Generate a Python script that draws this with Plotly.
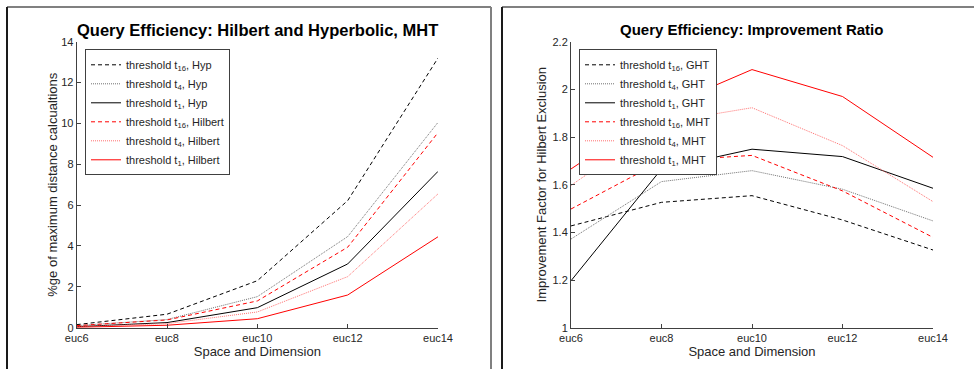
import plotly.graph_objects as go

W, H = 974, 369

categories = ["euc6", "euc8", "euc10", "euc12", "euc14"]

# Left panel: % of maximum distance calculations
hyp_t16 = [0.15, 0.66, 2.30, 6.22, 13.20]
hyp_t4 = [0.10, 0.40, 1.52, 4.46, 10.05]
hyp_t1 = [0.05, 0.25, 0.98, 3.12, 7.65]
hil_t16 = [0.10, 0.38, 1.31, 3.94, 9.55]
hil_t4 = [0.05, 0.20, 0.77, 2.50, 6.55]
hil_t1 = [0.02, 0.12, 0.44, 1.60, 4.45]

# Right panel: improvement factor
ght_t16 = [1.427, 1.526, 1.554, 1.452, 1.326]
ght_t4 = [1.372, 1.613, 1.659, 1.581, 1.448]
ght_t1 = [1.197, 1.666, 1.749, 1.718, 1.585]
mht_t16 = [1.498, 1.699, 1.723, 1.574, 1.379]
mht_t4 = [1.597, 1.860, 1.923, 1.764, 1.529]
mht_t1 = [1.666, 1.920, 2.083, 1.970, 1.715]

left_names = ["threshold t<sub>16</sub>, Hyp", "threshold t<sub>4</sub>, Hyp", "threshold t<sub>1</sub>, Hyp",
              "threshold t<sub>16</sub>, Hilbert", "threshold t<sub>4</sub>, Hilbert", "threshold t<sub>1</sub>, Hilbert"]
right_names = ["threshold t<sub>16</sub>, GHT", "threshold t<sub>4</sub>, GHT", "threshold t<sub>1</sub>, GHT",
               "threshold t<sub>16</sub>, MHT", "threshold t<sub>4</sub>, MHT", "threshold t<sub>1</sub>, MHT"]

styles = [
    dict(color="#000000", dash="4px,3px", width=1),
    dict(color="#707070", dash="1px,1px", width=1),
    dict(color="#000000", dash="solid", width=1),
    dict(color="#ff0000", dash="4px,3px", width=1),
    dict(color="#ff7070", dash="1px,1px", width=1),
    dict(color="#ff0000", dash="solid", width=1),
]

FONT = "Liberation Sans, Arial, Helvetica, sans-serif"
fig = go.Figure()

for ys, nm, st in zip([hyp_t16, hyp_t4, hyp_t1, hil_t16, hil_t4, hil_t1], left_names, styles):
    fig.add_trace(go.Scatter(x=categories, y=ys, mode="lines", name=nm, line=st,
                             xaxis="x", yaxis="y", legend="legend"))
for ys, nm, st in zip([ght_t16, ght_t4, ght_t1, mht_t16, mht_t4, mht_t1], right_names, styles):
    fig.add_trace(go.Scatter(x=categories, y=ys, mode="lines", name=nm, line=st,
                             xaxis="x2", yaxis="y2", legend="legend2"))

axis_common = dict(showline=True, linecolor="#404040", linewidth=1, ticks="inside", ticklen=4,
                   tickcolor="#404040", showgrid=False, zeroline=False,
                   tickfont=dict(family=FONT, size=11, color="#262626"), automargin=False)

lx0, lx1 = 76.7 / W, 438 / W
rx0, rx1 = 571 / W, 933 / W
yb, yt = 1 - 327.7 / H, 1 - 41.7 / H

legend_common = dict(xanchor="left", yanchor="top", bgcolor="white",
                     bordercolor="#404040", borderwidth=1,
                     font=dict(family=FONT, size=11, color="#262626"),
                     tracegroupgap=0, itemwidth=30)

fig.update_layout(
    width=W, height=H, margin=dict(l=0, r=0, t=0, b=0),
    paper_bgcolor="white", plot_bgcolor="white",
    font=dict(family=FONT, color="#262626"),
    xaxis=dict(domain=[lx0, lx1], anchor="y", type="category", range=[0, 4],
               title=dict(text="Space and Dimension", font=dict(size=13, color="#262626"), standoff=0),
               **axis_common),
    yaxis=dict(domain=[yb, yt], anchor="x", range=[0, 14], dtick=2,
               title=dict(text="%ge of maximum distance calcualtions", font=dict(size=13, color="#262626"), standoff=0),
               **axis_common),
    xaxis2=dict(domain=[rx0, rx1], anchor="y2", type="category", range=[0, 4],
                title=dict(text="Space and Dimension", font=dict(size=13, color="#262626"), standoff=0),
                **axis_common),
    yaxis2=dict(domain=[yb, yt], anchor="x2", range=[1, 2.2], dtick=0.2,
                title=dict(text="Improvement Factor for Hilbert Exclusion", font=dict(size=13, color="#262626"), standoff=2),
                **axis_common),
    legend=dict(x=85 / W, y=1 - 49.3 / H, **legend_common),
    legend2=dict(x=579 / W, y=1 - 49.3 / H, **legend_common),
    annotations=[
        dict(text="<b>Query Efficiency: Hilbert and Hyperbolic, MHT</b>", x=(lx0 + lx1) / 2, y=1 - 29.5 / H,
             xref="paper", yref="paper", showarrow=False, xanchor="center", yanchor="middle",
             font=dict(family=FONT, size=16.5, color="#000000")),
        dict(text="<b>Query Efficiency: Improvement Ratio</b>", x=(rx0 + rx1) / 2, y=1 - 29.5 / H,
             xref="paper", yref="paper", showarrow=False, xanchor="center", yanchor="middle",
             font=dict(family=FONT, size=15, color="#000000")),
    ],
    showlegend=True,
)

# Panel frames
def px_line(x0, y0, x1, y1, color, width):
    fig.add_shape(type="line", xref="paper", yref="paper",
                  x0=x0 / W, y0=1 - y0 / H, x1=x1 / W, y1=1 - y1 / H,
                  line=dict(color=color, width=width))

px_line(7, 7, 491, 7, "#808080", 2)
px_line(7, 7, 7, 369, "#1a1a1a", 2)
px_line(491, 7, 491, 369, "#808080", 2)
px_line(502, 7, 974, 7, "#808080", 2)
px_line(502, 7, 502, 369, "#1a1a1a", 2)

fig.write_html("out.html")
